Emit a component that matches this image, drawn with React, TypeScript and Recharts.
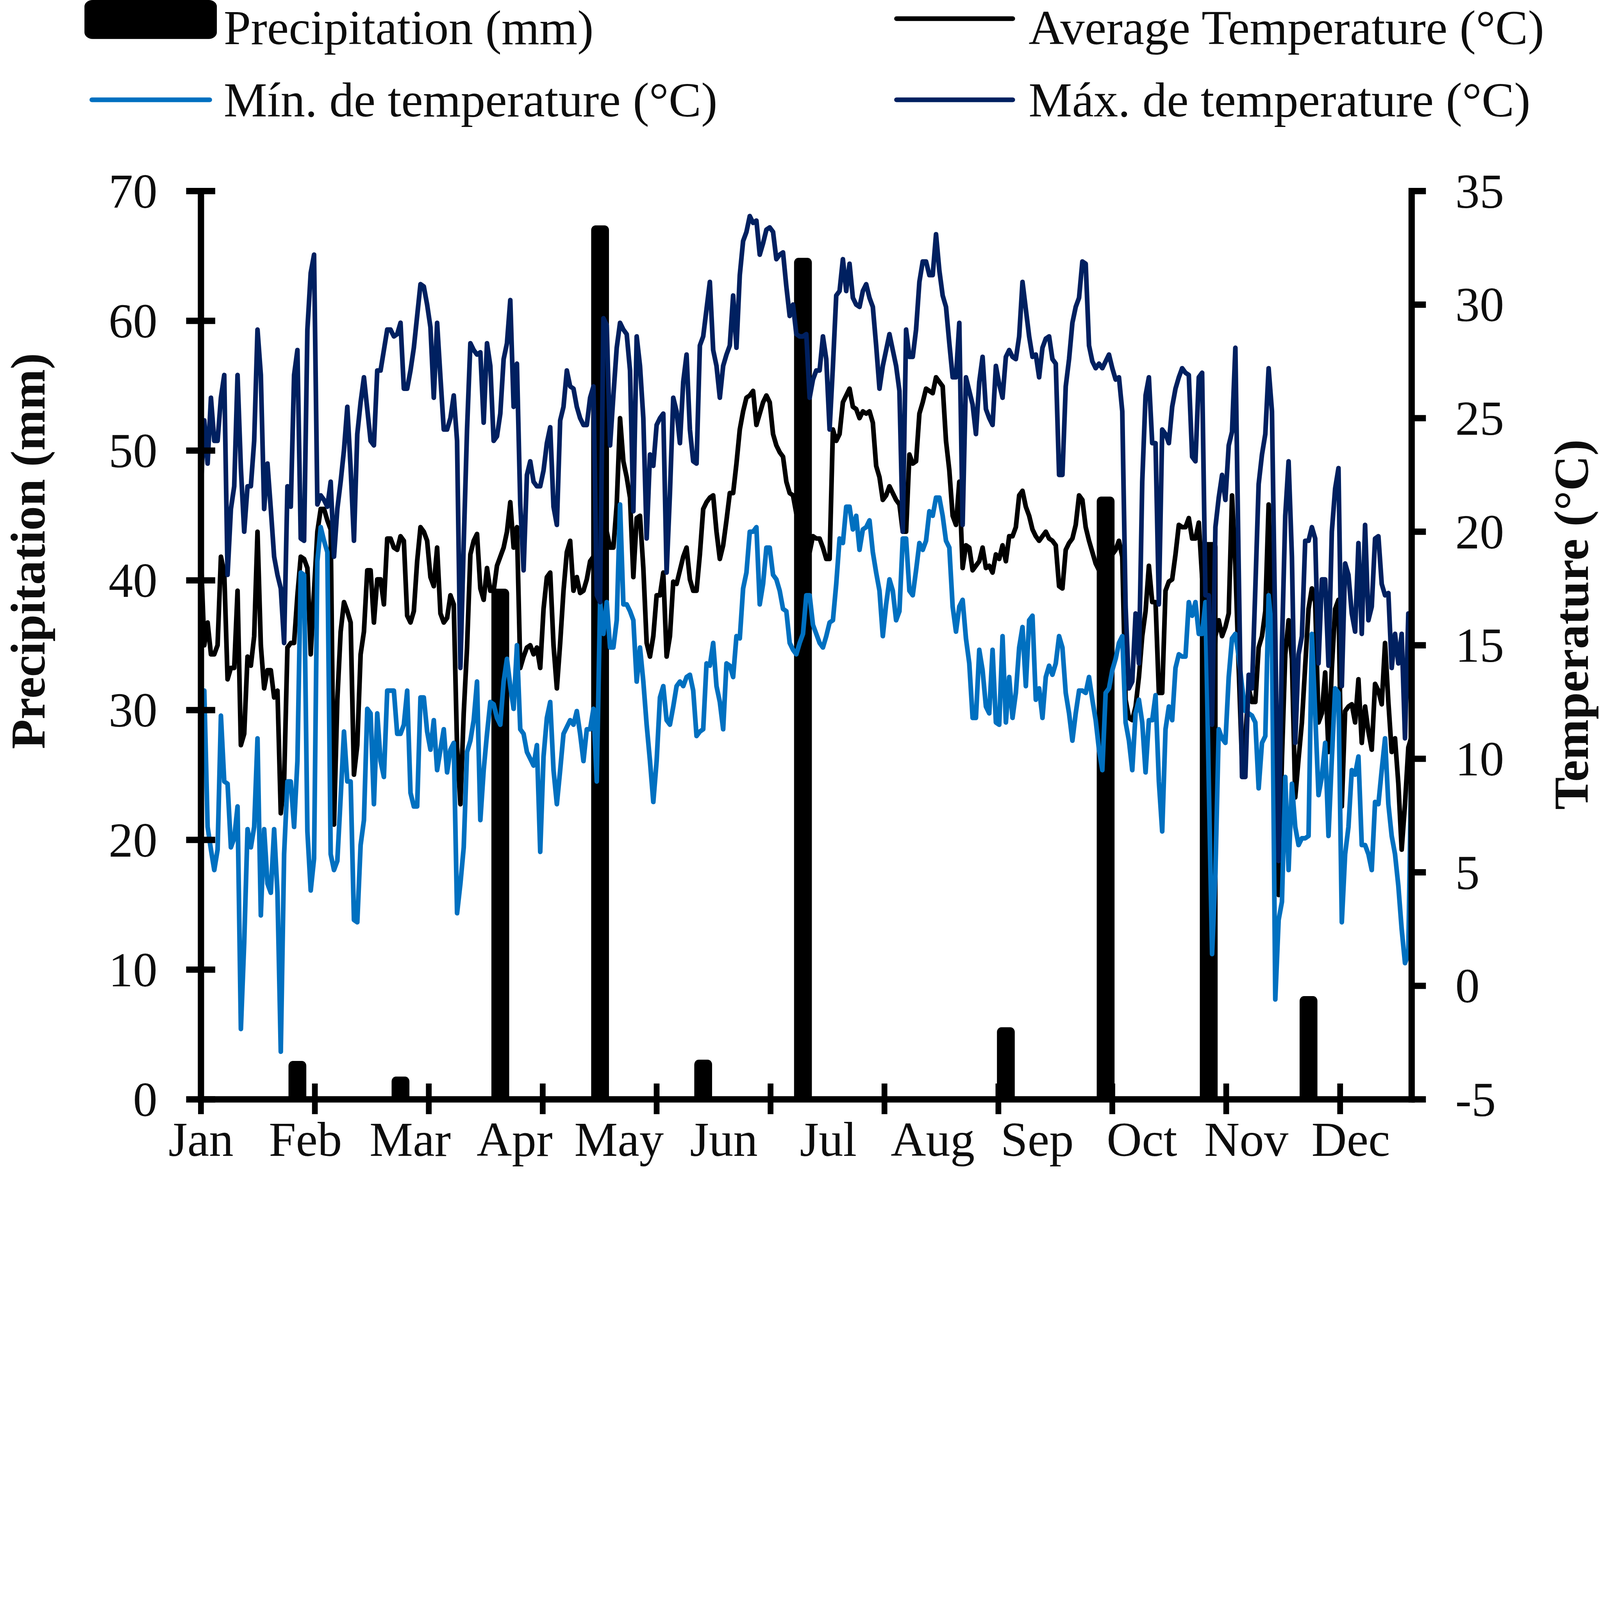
import React from 'react';
import { ComposedChart, Line, Bar, XAxis, YAxis, Customized } from 'recharts';

const W = 5836;
const H = 4256;
const FONT = '"Liberation Serif", "Times New Roman", serif';
const FS = 178;
const TEXT = '#0d0d0d';

const MAX_COLOR = '#002060';
const MIN_COLOR = '#0070C0';
const AVG_COLOR = '#000000';
const LINE_W = 17;

// Daily maximum temperature (°C), day 0 = 1 Jan
const tMax = [
  22.0, 24.9, 23.0, 25.9, 24.0, 24.0, 25.9, 26.9, 18.1, 21.0,
  22.0, 26.9, 22.8, 20.0, 22.0, 22.0, 24.0, 28.9, 26.9, 21.0,
  23.0, 21.0, 18.9, 18.1, 17.5, 15.1, 22.0, 21.1, 26.9, 28.0,
  19.7, 19.6, 28.9, 31.4, 32.2, 21.2, 21.6, 21.4, 21.1, 22.2,
  18.9, 21.0, 22.2, 23.6, 25.5, 22.8, 19.6, 24.3, 25.7, 26.8,
  25.4, 24.0, 23.8, 27.1, 27.1, 28.0, 28.9, 28.9, 28.6, 28.7,
  29.2, 26.3, 26.3, 27.1, 28.1, 29.5, 30.9, 30.8, 30.0, 29.0,
  25.9, 29.2, 26.8, 24.5, 24.5, 25.0, 26.0, 24.0, 14.0, 19.5,
  24.5, 28.3, 28.0, 27.8, 27.9, 24.8, 28.3, 27.3, 24.0, 24.2,
  25.2, 27.6, 28.3, 30.2, 25.5, 27.4, 21.2, 18.3, 22.5, 23.1,
  22.2, 22.0, 22.0, 22.7, 23.9, 24.6, 21.1, 20.3, 24.9, 25.5,
  27.1, 26.4, 26.3, 25.5, 25.0, 24.7, 24.7, 25.9, 26.4, 17.2,
  16.9, 29.4, 29.1, 23.8, 26.0, 28.1, 29.2, 28.9, 28.7, 27.1,
  20.9, 28.6, 27.3, 25.0, 19.7, 23.4, 22.9, 24.7, 25.0, 25.2,
  18.2, 21.7, 25.9, 25.3, 23.9, 26.6, 27.8, 24.5, 23.1, 23.0,
  28.2, 28.6, 29.8, 31.0, 28.0, 27.3, 25.9, 27.3, 27.8, 28.2,
  30.4, 28.1, 31.3, 32.8, 33.2, 33.9, 33.6, 33.7, 32.2, 32.7,
  33.3, 33.4, 33.2, 32.0, 32.2, 32.3, 30.8, 29.5, 30.0, 28.7,
  28.6, 28.6, 28.7, 25.9, 26.7, 27.1, 27.1, 28.6, 27.6, 24.5,
  27.3, 30.4, 30.6, 32.0, 30.6, 31.8, 30.3, 30.0, 29.9, 30.6,
  30.9, 30.3, 29.9, 28.2, 26.3, 27.3, 28.0, 28.7, 28.0, 27.3,
  26.2, 20.0, 28.9, 27.7, 27.7, 28.9, 31.0, 31.9, 31.9, 31.3,
  31.3, 33.1, 31.5, 30.4, 29.9, 28.3, 26.8, 26.8, 29.2, 20.3,
  26.8, 26.2, 25.6, 24.3, 26.6, 27.7, 25.4, 25.0, 24.7, 27.3,
  26.5, 25.9, 27.7, 28.0, 27.7, 27.6, 28.6, 31.0, 29.8, 28.6,
  27.7, 27.8, 26.8, 28.1, 28.5, 28.6, 27.6, 27.4, 22.5, 22.5,
  26.4, 27.6, 29.2, 29.9, 30.3, 31.9, 31.8, 28.2, 27.5, 27.2,
  27.4, 27.2, 27.5, 27.8, 27.2, 26.7, 26.8, 25.3, 16.7, 13.1,
  13.4, 16.4, 14.2, 22.2, 26.0, 26.8, 23.9, 23.9, 16.8, 24.5,
  24.3, 23.9, 25.5, 26.3, 26.8, 27.2, 27.0, 26.9, 23.3, 23.1,
  26.8, 27.0, 17.2, 17.2, 11.5, 20.2, 21.5, 22.5, 21.4, 23.8,
  24.4, 28.1, 18.4, 9.2, 9.2, 13.7, 13.1, 17.5, 22.1, 23.4,
  24.3, 27.2, 25.3, 15.5, 5.5, 15.0, 20.7, 23.1, 18.9, 10.7,
  14.6, 15.4, 19.6, 19.6, 20.2, 19.7, 14.2, 17.9, 17.9, 14.1,
  20.0, 21.9, 22.8, 13.2, 18.6, 18.1, 16.4, 15.6, 19.5, 15.5,
  20.3, 16.1, 16.7, 19.7, 19.8, 17.7, 17.2, 17.3, 14.0, 15.5,
  14.2, 15.5, 10.9, 16.4, 11.3,
];

// Daily average temperature (°C)
const tAvg = [
  18.9, 15.0, 16.0, 14.6, 14.6, 15.0, 18.9, 18.2, 13.5, 14.0,
  14.0, 17.4, 10.6, 11.1, 14.5, 14.1, 15.4, 20.0, 15.0, 13.1,
  13.9, 13.9, 12.7, 13.0, 7.6, 9.0, 14.9, 15.1, 15.1, 17.2,
  18.9, 18.8, 18.4, 14.6, 17.4, 20.0, 21.0, 21.0, 20.5, 20.1,
  7.1, 12.6, 15.6, 16.9, 16.5, 16.0, 9.3, 10.6, 14.6, 15.6,
  18.3, 18.3, 16.0, 17.9, 17.9, 16.8, 19.7, 19.7, 19.3, 19.2,
  19.8, 19.6, 16.3, 16.0, 16.5, 18.7, 20.2, 20.0, 19.6, 18.0,
  17.6, 19.3, 16.4, 16.0, 16.2, 17.2, 16.8, 10.5, 8.0, 12.0,
  14.9, 19.0, 19.6, 19.9, 17.5, 17.0, 18.4, 17.4, 17.4, 18.5,
  18.9, 19.3, 20.0, 21.3, 19.3, 20.2, 14.0, 14.5, 14.9, 15.0,
  14.6, 14.9, 14.0, 16.6, 18.0, 18.2, 15.0, 13.1, 15.1, 17.4,
  19.1, 19.6, 17.4, 18.0, 17.3, 17.4, 17.9, 18.7, 18.9, 13.0,
  16.9, 21.0, 20.0, 19.3, 19.3, 21.2, 25.0, 23.1, 22.4, 21.5,
  18.0, 20.6, 20.7, 18.4, 15.1, 14.5, 15.4, 17.2, 17.2, 18.2,
  14.5, 15.4, 17.8, 17.7, 18.3, 18.9, 19.3, 17.9, 17.4, 17.4,
  19.0, 21.0, 21.3, 21.5, 21.6, 20.0, 18.8, 19.4, 20.5, 21.7,
  21.7, 23.0, 24.5, 25.3, 25.9, 26.0, 26.2, 24.7, 25.2, 25.7,
  26.0, 25.7, 24.3, 23.8, 23.5, 23.3, 22.2, 21.7, 21.6, 20.8,
  20.0, 19.5, 19.3, 19.1, 19.8, 19.7, 19.7, 19.3, 18.8, 18.8,
  24.5, 24.0, 24.3, 25.7, 26.0, 26.3, 25.5, 25.4, 25.0, 25.3,
  25.2, 25.3, 24.8, 22.9, 22.4, 21.4, 21.6, 22.0, 21.7, 21.4,
  21.2, 20.0, 20.0, 23.4, 23.0, 23.1, 25.2, 25.7, 26.3, 26.2,
  26.1, 26.8, 26.6, 26.4, 24.0, 22.7, 20.7, 20.3, 22.2, 18.4,
  19.4, 19.3, 18.3, 18.5, 18.7, 19.3, 18.4, 18.5, 18.2, 19.0,
  18.8, 19.4, 18.7, 19.8, 19.8, 20.2, 21.6, 21.8, 21.1, 20.7,
  20.1, 19.8, 19.6, 19.8, 20.0, 19.7, 19.6, 19.4, 17.6, 17.5,
  19.2, 19.5, 19.7, 20.3, 21.6, 21.4, 20.2, 19.6, 19.1, 18.6,
  18.3, 18.8, 19.0, 19.3, 19.0, 19.2, 19.6, 18.9, 12.6, 11.8,
  11.7, 12.3, 13.6, 15.4, 16.5, 18.5, 16.9, 16.9, 12.9, 12.9,
  17.4, 17.8, 17.9, 19.0, 20.3, 20.2, 20.2, 20.6, 19.7, 19.7,
  20.4, 18.0, 17.0, 12.0, 8.0, 15.4, 16.1, 15.4, 15.8, 16.4,
  21.6, 18.5, 14.0, 9.8, 11.0, 13.1, 12.5, 12.5, 14.9, 15.4,
  16.5, 21.2, 15.0, 8.5, 4.0, 10.0, 14.6, 16.1, 14.4, 8.3,
  10.0, 11.6, 14.1, 16.6, 17.5, 16.9, 11.6, 12.0, 13.8, 10.3,
  14.0, 16.6, 17.0, 7.9, 12.1, 12.3, 12.4, 11.6, 13.5, 10.7,
  12.3, 11.2, 10.4, 13.3, 13.0, 12.4, 15.1, 12.5, 10.3, 10.9,
  8.9, 6.0, 8.0, 10.5, 11.0,
];

// Daily minimum temperature (°C)
const tMin = [
  9.0, 13.0, 7.0, 6.0, 5.1, 6.0, 11.9, 9.0, 8.9, 6.1,
  6.5, 7.9, -1.9, 1.9, 6.9, 6.1, 7.0, 10.9, 3.1, 6.9,
  4.5, 4.1, 6.9, 4.1, -2.9, 5.8, 9.0, 9.0, 7.0, 9.9,
  18.2, 18.1, 6.8, 4.2, 5.6, 18.7, 20.2, 19.6, 19.1, 5.8,
  5.1, 5.5, 8.3, 11.2, 9.0, 9.0, 2.9, 2.8, 6.2, 7.3,
  12.2, 12.0, 8.0, 12.0, 9.9, 9.2, 13.0, 13.0, 13.0, 11.1,
  11.1, 11.5, 13.0, 8.5, 7.9, 7.9, 12.7, 12.7, 11.2, 10.4,
  11.7, 9.5, 10.4, 11.3, 9.4, 10.4, 10.7, 3.2, 4.5, 6.1,
  10.3, 10.8, 11.7, 13.4, 7.3, 9.5, 11.1, 12.5, 12.4, 11.8,
  11.5, 13.4, 14.4, 13.2, 12.2, 15.0, 11.3, 11.1, 10.3, 10.0,
  9.7, 10.6, 5.9, 10.1, 11.8, 12.5, 9.5, 8.0, 9.5, 11.1,
  11.4, 11.7, 11.5, 12.1, 11.1, 9.9, 11.3, 11.3, 12.2, 9.0,
  16.9, 15.5, 16.9, 14.9, 14.9, 16.1, 21.2, 16.8, 16.8, 16.5,
  16.1, 13.4, 14.9, 13.4, 11.5, 9.9, 8.1, 9.9, 12.7, 13.2,
  11.7, 11.5, 12.3, 13.2, 13.4, 13.2, 13.6, 13.7, 13.0, 11.0,
  11.2, 11.3, 14.2, 14.1, 15.1, 13.2, 12.5, 11.3, 14.2, 14.1,
  13.6, 15.4, 15.3, 17.5, 18.2, 20.0, 20.0, 20.2, 16.8, 17.7,
  19.3, 19.3, 18.1, 17.9, 17.4, 16.6, 16.5, 15.1, 14.8, 14.6,
  15.1, 15.5, 17.2, 17.2, 15.9, 15.5, 15.1, 14.9, 15.4, 16.0,
  16.1, 17.7, 19.7, 19.5, 21.1, 21.1, 20.1, 20.7, 19.2, 20.1,
  20.2, 20.5, 19.1, 18.2, 17.4, 15.4, 16.8, 17.9, 17.4, 16.1,
  16.5, 19.7, 19.7, 17.4, 17.2, 18.3, 19.5, 19.2, 19.6, 20.9,
  20.7, 21.5, 21.5, 20.7, 19.6, 19.3, 16.7, 15.6, 16.7, 17.0,
  15.3, 14.2, 11.8, 11.8, 14.8, 13.9, 12.3, 12.0, 14.8, 11.6,
  11.5, 15.4, 11.6, 13.6, 11.8, 12.9, 14.9, 15.8, 13.2, 16.1,
  16.3, 12.6, 13.1, 11.8, 13.6, 14.1, 13.7, 14.2, 15.4, 14.9,
  12.9, 12.0, 10.8, 12.0, 13.0, 13.0, 12.9, 13.6, 12.6, 11.7,
  10.4, 9.5, 12.9, 13.1, 13.9, 14.4, 15.1, 15.4, 11.6, 10.8,
  9.5, 12.0, 12.6, 11.6, 9.4, 11.7, 11.7, 12.8, 9.0, 6.8,
  11.3, 12.3, 11.7, 14.0, 14.6, 14.5, 14.5, 16.9, 16.3, 16.9,
  15.5, 15.5, 16.9, 9.0, 1.4, 5.0, 11.3, 10.9, 10.7, 13.6,
  15.3, 15.5, 14.5, 13.2, 12.1, 12.0, 11.9, 11.6, 8.7, 10.7,
  11.0, 17.2, 15.6, -0.6, 2.9, 3.7, 9.2, 5.1, 8.9, 7.0,
  6.2, 6.5, 6.5, 6.6, 15.5, 12.0, 8.4, 9.2, 10.7, 6.6,
  10.0, 13.1, 12.9, 2.8, 5.8, 7.0, 9.5, 9.3, 10.1, 6.2,
  6.2, 5.8, 5.1, 8.1, 8.0, 9.5, 10.9, 8.0, 6.6, 5.8,
  4.4, 2.5, 1.0, 1.4, 11.0,
];

// Monthly precipitation totals (mm), drawn at the end of each month
const precipDays = [29, 60, 90, 120, 151, 181, 212, 242, 272, 303, 333];
const precipValues = [2.6, 1.4, 39.0, 67.0, 2.7, 64.5, 0, 5.2, 46.1, 42.6, 7.6];

const monthLabels = ['Jan', 'Feb', 'Mar', 'Apr', 'May', 'Jun', 'Jul', 'Aug', 'Sep', 'Oct', 'Nov', 'Dec'];
const monthLabelDays = [0, 31.4, 62.9, 94.3, 125.7, 157.2, 188.6, 220.0, 251.4, 282.9, 314.3, 345.7];
const xTickMarkDays = [0, 34.25, 68.5, 102.75, 137, 171.25, 205.5, 239.75, 274, 308.25, 342.5];
const precipTicks = [0, 10, 20, 30, 40, 50, 60, 70];
const tempTicks = [-5, 0, 5, 10, 15, 20, 25, 30, 35];

const series = [
  { key: 'precip', name: 'Precipitation (mm)', color: '#000000' },
  { key: 'tavg', name: 'Average Temperature (°C)', color: AVG_COLOR },
  { key: 'tmin', name: 'Mín. de temperature (°C)', color: MIN_COLOR },
  { key: 'tmax', name: 'Máx. de temperature (°C)', color: MAX_COLOR },
];

const data = tMax.map((_, i) => ({
  day: i,
  tmax: tMax[i],
  tavg: tAvg[i],
  tmin: tMin[i],
  precip: null as number | null,
}));
precipDays.forEach((d, k) => {
  if (precipValues[k] > 0) data[d].precip = precipValues[k];
});

const allXTicks = Array.from(new Set([...monthLabelDays, ...xTickMarkDays])).sort((a, b) => a - b);
const near = (a: number, b: number) => Math.abs(a - b) < 1e-6;

const XTick = (props: any) => {
  const { x, y, payload } = props;
  const v = payload.value;
  const li = monthLabelDays.findIndex((d) => near(d, v));
  const isMark = xTickMarkDays.some((d) => near(d, v));
  return (
    <g>
      {isMark && <line x1={x} x2={x} y1={y - 58} y2={y + 54} stroke="#000" strokeWidth={21} />}
      {li >= 0 && (
        <text x={x} y={y + 206} textAnchor="middle" fontFamily={FONT} fontSize={FS} fill={TEXT}>
          {monthLabels[li]}
        </text>
      )}
    </g>
  );
};

const LeftTick = (props: any) => {
  const { x, y, payload } = props;
  return (
    <g>
      <line x1={x - 54} x2={x + 52} y1={y} y2={y} stroke="#000" strokeWidth={23} />
      <text x={x - 159} y={y} dy="0.34em" textAnchor="end" fontFamily={FONT} fontSize={FS} fill={TEXT}>
        {payload.value}
      </text>
    </g>
  );
};

const RightTick = (props: any) => {
  const { x, y, payload } = props;
  return (
    <g>
      <line x1={x} x2={x + 52} y1={y} y2={y} stroke="#000" strokeWidth={23} />
      <text x={x + 159} y={y} dy="0.34em" textAnchor="start" fontFamily={FONT} fontSize={FS} fill={TEXT}>
        {payload.value}
      </text>
    </g>
  );
};

const PrecipBar = (props: any) => {
  const { x, y, width, height, payload } = props;
  if (!payload || payload.precip == null || !isFinite(x) || !isFinite(y)) return <g />;
  const cx = x + width / 2;
  const w = 65;
  const pad = 17;
  return (
    <rect
      x={cx - w / 2}
      y={y - pad}
      width={w}
      height={Math.max(0, height) + pad * 2}
      rx={16}
      ry={18}
      fill="#000"
    />
  );
};

const Overlay = () => {
  const prec = series[0];
  const avg = series[1];
  const mn = series[2];
  const mx = series[3];
  const textProps = { fontFamily: FONT, fontSize: FS, fill: TEXT };
  return (
    <g>
      <rect x={308} y={0} width={483} height={142} rx={30} ry={24} fill={prec.color} />
      <text x={816} y={161} {...textProps}>{prec.name}</text>
      <line x1={335} x2={765} y1={364} y2={364} stroke={mn.color} strokeWidth={17} strokeLinecap="round" />
      <text x={816} y={425} {...textProps}>{mn.name}</text>
      <line x1={3270} x2={3694} y1={68} y2={68} stroke={avg.color} strokeWidth={17} strokeLinecap="round" />
      <text x={3752} y={161} {...textProps}>{avg.name}</text>
      <line x1={3270} x2={3694} y1={364} y2={364} stroke={mx.color} strokeWidth={17} strokeLinecap="round" />
      <text x={3752} y={425} {...textProps}>{mx.name}</text>
      <text transform="rotate(-90)" x={-2010} y={162} textAnchor="middle" fontWeight="bold" {...textProps}>
        Precipitation (mm)
      </text>
      <text transform="rotate(-90)" x={-2278} y={5792} textAnchor="middle" fontWeight="bold" {...textProps}>
        Temperature (°C)
      </text>
    </g>
  );
};

const axisLineStyle = { stroke: '#000', strokeWidth: 23, strokeLinecap: 'square' as const };

export default function App() {
  const vw = typeof window !== 'undefined' && window.innerWidth ? window.innerWidth : W;
  const s = vw / W;
  return (
    <div
      style={{
        position: 'absolute',
        left: 0,
        top: 0,
        width: W * s,
        height: H * s,
        overflow: 'hidden',
        background: '#fff',
      }}
    >
      <div style={{ width: W, height: H, transform: `scale(${s})`, transformOrigin: '0 0' }}>
        <ComposedChart width={W} height={H} data={data} margin={{ top: 697, right: 0, bottom: 0, left: 0 }}>
          <XAxis
            xAxisId="x"
            dataKey="day"
            type="number"
            domain={[0, 364]}
            ticks={allXTicks}
            interval={0}
            tick={XTick}
            tickLine={false}
            tickSize={0}
            tickMargin={0}
            height={246}
            axisLine={axisLineStyle}
            allowDataOverflow
          />
          <YAxis
            yAxisId="p"
            orientation="left"
            type="number"
            domain={[0, 70]}
            ticks={precipTicks}
            interval={0}
            tick={LeftTick}
            tickLine={false}
            tickSize={0}
            tickMargin={0}
            width={733}
            axisLine={axisLineStyle}
            allowDataOverflow
          />
          <YAxis
            yAxisId="t"
            orientation="right"
            type="number"
            domain={[-5, 35]}
            ticks={tempTicks}
            interval={0}
            tick={RightTick}
            tickLine={false}
            tickSize={0}
            tickMargin={0}
            width={687}
            axisLine={axisLineStyle}
            allowDataOverflow
          />
          <Bar
            xAxisId="x"
            yAxisId="p"
            dataKey="precip"
            barSize={10}
            shape={PrecipBar}
            isAnimationActive={false}
          />
          <Line
            xAxisId="x"
            yAxisId="t"
            type="linear"
            dataKey="tavg"
            stroke={AVG_COLOR}
            strokeWidth={LINE_W}
            strokeLinejoin="round"
            strokeLinecap="round"
            dot={false}
            activeDot={false}
            isAnimationActive={false}
          />
          <Line
            xAxisId="x"
            yAxisId="t"
            type="linear"
            dataKey="tmin"
            stroke={MIN_COLOR}
            strokeWidth={LINE_W}
            strokeLinejoin="round"
            strokeLinecap="round"
            dot={false}
            activeDot={false}
            isAnimationActive={false}
          />
          <Line
            xAxisId="x"
            yAxisId="t"
            type="linear"
            dataKey="tmax"
            stroke={MAX_COLOR}
            strokeWidth={LINE_W}
            strokeLinejoin="round"
            strokeLinecap="round"
            dot={false}
            activeDot={false}
            isAnimationActive={false}
          />
          <Customized component={Overlay} />
        </ComposedChart>
      </div>
    </div>
  );
}
